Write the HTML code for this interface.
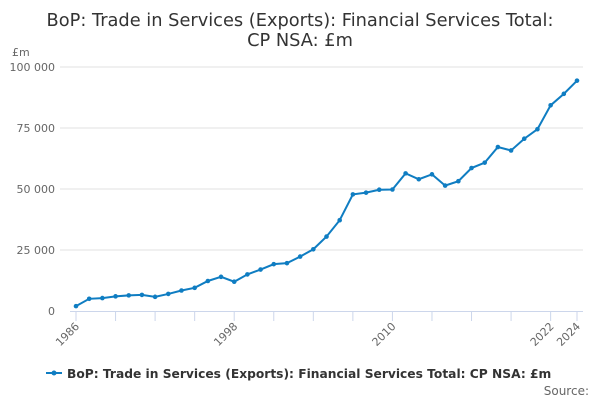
<!DOCTYPE html>
<html><head><meta charset="utf-8"><style>
body{margin:0;background:#fff;font-family:"DejaVu Sans","Liberation Sans",sans-serif;}
svg{display:block}
</style></head><body>
<svg width="600" height="400" id="chart">
<text x="300" y="26" text-anchor="middle" font-size="17.8" fill="#333">BoP: Trade in Services (Exports): Financial Services Total:</text>
<text x="300" y="46" text-anchor="middle" font-size="17.8" fill="#333">CP NSA: £m</text>
<text x="12" y="56" font-size="11" fill="#666">£m</text>
<g id="grid"></g><g id="xaxis"></g><g id="series"></g>
<g>
<line x1="46" y1="373" x2="62" y2="373" stroke="#0f7dc2" stroke-width="2"/>
<circle cx="54" cy="373" r="2.5" fill="#0f7dc2"/>
<text x="67" y="378" font-size="12.25" font-weight="bold" fill="#333">BoP: Trade in Services (Exports): Financial Services Total: CP NSA: £m</text>
</g>
<text x="589" y="395" text-anchor="end" font-size="12" fill="#666">Source:</text>
</svg>
<script>
const years=[1986,1987,1988,1989,1990,1991,1992,1993,1994,1995,1996,1997,1998,1999,2000,2001,2002,2003,2004,2005,2006,2007,2008,2009,2010,2011,2012,2013,2014,2015,2016,2017,2018,2019,2020,2021,2022,2023,2024];
const values=[2000,5000,5300,6000,6400,6600,5800,7000,8400,9500,12300,14000,12000,15000,17000,19200,19600,22300,25300,30500,37200,47800,48500,49700,49800,56400,54000,56000,51400,53200,58600,60800,67200,65800,70600,74500,84300,89000,94400];
const yTicks=[0,25000,50000,75000,100000];
const yTickLabels=["0","25 000","50 000","75 000","100 000"];
const xLabelYears=[1986,1998,2010,2022,2024];
const NS="http://www.w3.org/2000/svg";
const X=y=>76+(y-1986)*(577-76)/(2024-1986);
const Y=v=>311-v*244/100000;
function mk(t,a,p){const e=document.createElementNS(NS,t);for(const k in a)e.setAttribute(k,a[k]);p.appendChild(e);return e;}
const grid=document.getElementById('grid');
yTicks.forEach((v,i)=>{
 if(v>0){const l=mk('line',{x1:60,x2:583,y1:Y(v),y2:Y(v),stroke:'#e0e0e0'},grid);
 
 }
 const t=mk('text',{x:55,y:Y(v)+4,'text-anchor':'end','font-size':11,fill:'#666'},grid);
 t.textContent=yTickLabels[i];
 
 
});
const xa=document.getElementById('xaxis');
const al=mk('line',{x1:70,x2:583,y1:311.5,y2:311.5,stroke:'#ccd6eb'},xa);


for(let yr=1986;yr<=2024;yr+=3){
 const tk=mk('line',{x1:X(yr),x2:X(yr),y1:311,y2:321,stroke:'#ccd6eb'},xa);
 
 
}
const tk2=mk('line',{x1:X(2024),x2:X(2024),y1:311,y2:321,stroke:'#ccd6eb'},xa);


xLabelYears.forEach(yr=>{
 const x=X(yr)+4,y=327;
 const t=mk('text',{x:x,y:y,'text-anchor':'end','font-size':11,fill:'#666',transform:`rotate(-45 ${x} ${y})`},xa);
 t.textContent=yr;
 
 
});
const s=document.getElementById('series');
const pl=mk('polyline',{points:years.map((yr,i)=>X(yr)+','+Y(values[i])).join(' '),fill:'none',stroke:'#0f7dc2','stroke-width':2},s);


years.forEach((yr,i)=>{
 const c=mk('circle',{cx:X(yr),cy:Y(values[i]),r:2.3,fill:'#0f7dc2'},s);
 
 
});
</script>
</body></html>
